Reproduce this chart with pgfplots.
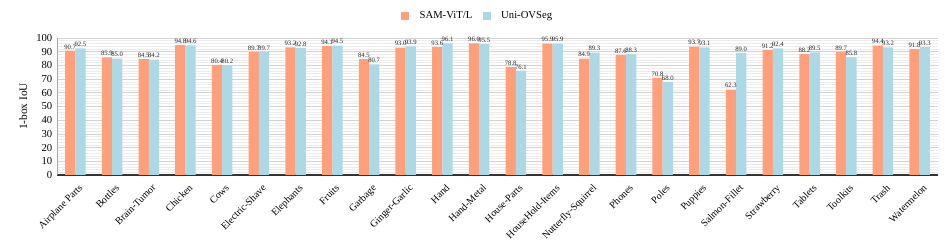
\documentclass[border=0pt]{standalone}
\usepackage{pgfplots}
\pgfplotsset{compat=1.18}
\usepackage{fontspec}
\setmainfont{Liberation Serif}
\definecolor{samc}{HTML}{FFA07A}
\definecolor{unic}{HTML}{ADD8E6}
\begin{document}
\begin{tikzpicture}
\begin{axis}[
  scale only axis,
  width=660.75pt, height=102.75pt,
  ybar=0pt, bar width=7.7pt,
  xmin=-0.5, xmax=23.5,
  ymin=0, ymax=100,
  ytick={0,10,...,100},
  minor y tick num=4,
  xtick={0,...,23},
  xticklabels={Airplane Parts,Bottles,Brain-Tumor,Chicken,Cows,Electric-Shave,Elephants,Fruits,Garbage,Ginger-Garlic,Hand,Hand-Metal,House-Parts,HouseHold-Items,Nutterfly-Squirrel,Phones,Poles,Puppies,Salmon-Fillet,Strawberry,Tablets,Toolkits,Trash,Watermelon},
  x tick label style={rotate=45, anchor=north east, font=\fontsize{7.5}{8}\selectfont, inner sep=1pt, xshift=-2pt, yshift=-5pt},
  y tick label style={font=\fontsize{8}{9}\selectfont},
  /pgf/number format/assume math mode=true,
  ylabel={1-box IoU},
  ylabel style={font=\fontsize{8.5}{9}\selectfont},
  major tick length=0pt, minor tick length=0pt,
  ymajorgrids, yminorgrids,
  major grid style={gray!35, line width=0.5pt},
  minor grid style={gray!15, line width=0.4pt},
  axis x line*=bottom, axis y line*=left,
  x axis line style={black!80, line width=0.9pt},
  y axis line style={gray!70, line width=0.6pt},
  axis line style={-},
  nodes near coords,
  nodes near coords style={font=\fontsize{5}{5}\selectfont, text=black!85, inner sep=1pt, /pgf/number format/.cd, fixed, fixed zerofill, precision=1},
  legend style={at={(0.478,1)}, anchor=center, yshift=16.5pt, draw=none, font=\fontsize{8}{9}\selectfont, legend columns=2, column sep=6pt},
  legend image code/.code={\draw[#1, draw=none] (0cm,-0.1cm) rectangle (0.2cm,0.1cm);},
]
\addplot[fill=samc, draw=none] coordinates {
(0,90.7) (1,85.9) (2,84.5) (3,94.8) (4,80.4) (5,89.7) (6,93.2) (7,94.1) (8,84.5) (9,93.0) (10,93.6) (11,96.0) (12,78.8) (13,95.9) (14,84.9) (15,87.6) (16,70.8) (17,93.7) (18,62.3) (19,91.2) (20,88.2) (21,89.7) (22,94.4) (23,91.8)};
\addplot[fill=unic, draw=none] coordinates {
(0,92.5) (1,85.0) (2,84.2) (3,94.6) (4,80.2) (5,89.7) (6,92.8) (7,94.5) (8,80.7) (9,93.9) (10,96.1) (11,95.5) (12,76.1) (13,95.9) (14,89.3) (15,88.3) (16,68.0) (17,93.1) (18,89.0) (19,92.4) (20,89.5) (21,85.8) (22,93.2) (23,93.3)};
\legend{SAM-ViT/L, Uni-OVSeg}
\end{axis}
\path ([shift={(-42.75pt,-57.75pt)}]current axis.south west) rectangle ([shift={(10.5pt,28.5pt)}]current axis.north east);
\end{tikzpicture}
\end{document}
